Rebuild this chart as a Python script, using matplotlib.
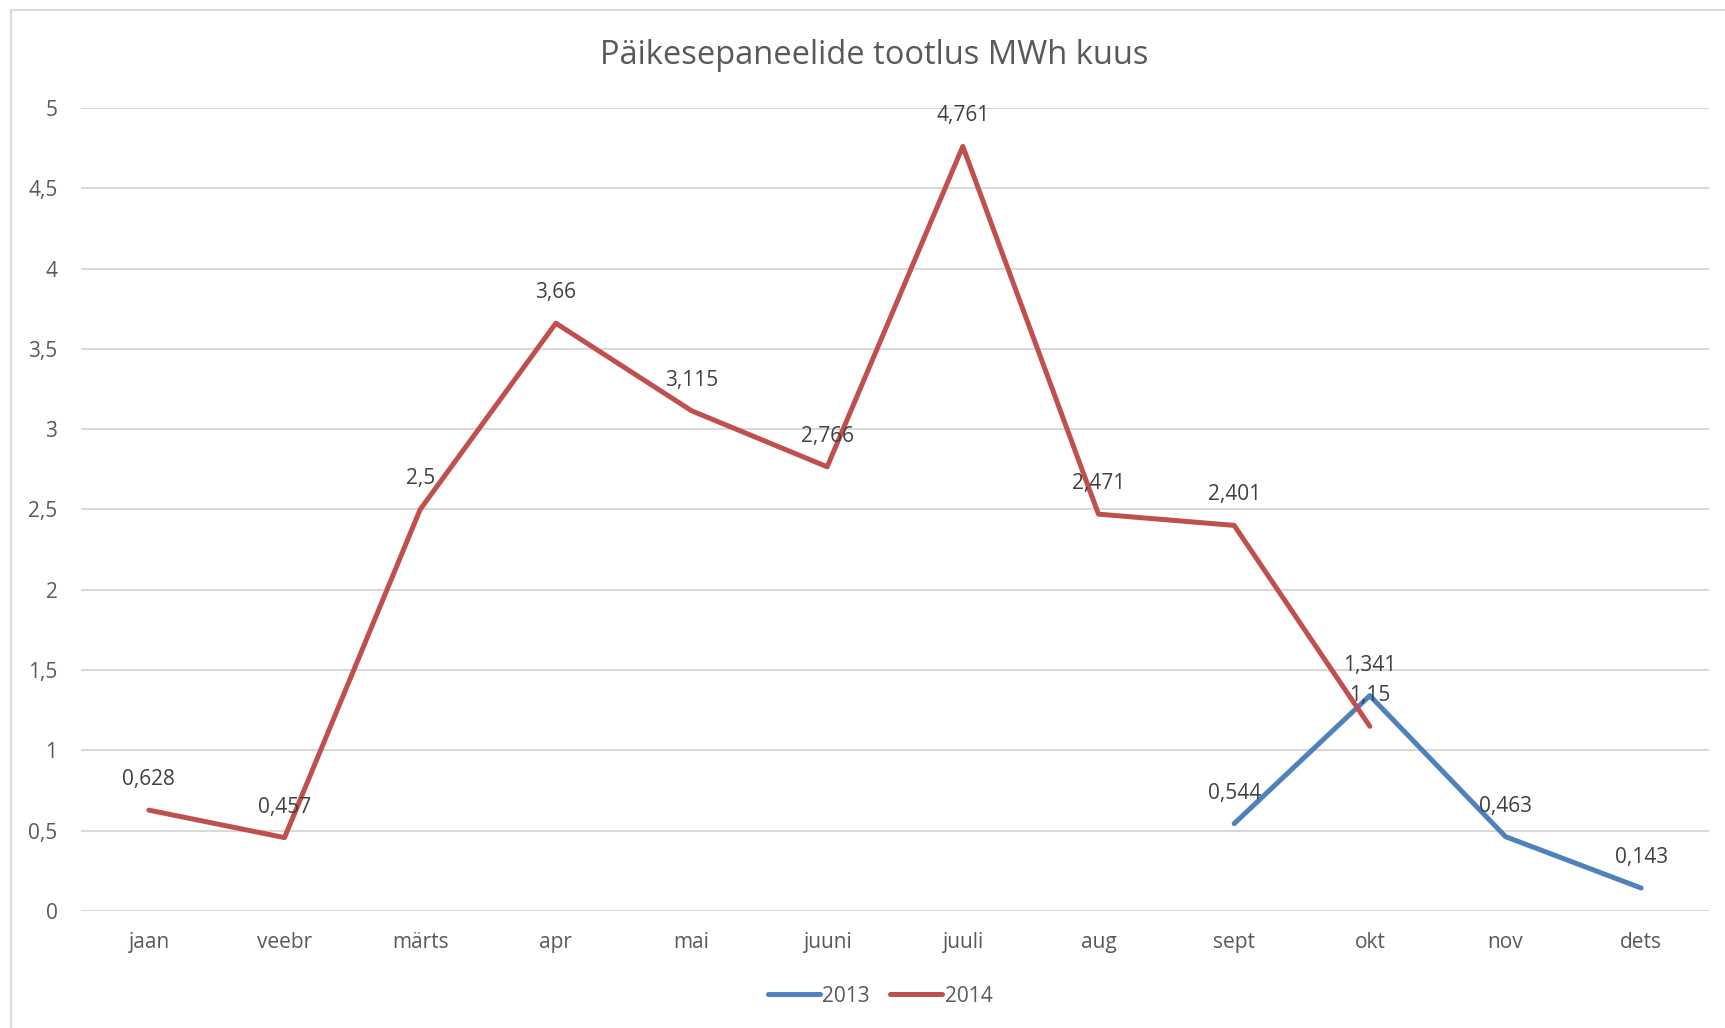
import matplotlib.pyplot as plt
from matplotlib.patches import Rectangle
from matplotlib.ticker import FuncFormatter

# --- data ---
months = ["jaan", "veebr", "märts", "apr", "mai", "juuni",
          "juuli", "aug", "sept", "okt", "nov", "dets"]
vals_2013 = [None, None, None, None, None, None, None, None, 0.544, 1.341, 0.463, 0.143]
vals_2014 = [0.628, 0.457, 2.5, 3.66, 3.115, 2.766, 4.761, 2.471, 2.401, 1.15, None, None]
yticks = [0, 0.5, 1, 1.5, 2, 2.5, 3, 3.5, 4, 4.5, 5]

BLUE = "#4F81BD"
RED = "#C0504D"
TXT = "#595959"
GRID = "#D9D9D9"

plt.rcParams['font.family'] = ['Open Sans', 'DejaVu Sans']


def fmt(v):
    s = ("%.3f" % v).rstrip("0").rstrip(".")
    return s.replace(".", ",")


fig = plt.figure(figsize=(17.25, 10.28), dpi=100)
ax = fig.add_axes([81 / 1725, 1 - 911 / 1028, 1628 / 1725, 803 / 1028])

# chart frame (right/bottom edges fall outside the picture)
fig.patches.append(Rectangle((11 / 1725, -0.05), 1.2, 1 - 10 / 1028 + 0.05,
                             transform=fig.transFigure, fill=False,
                             edgecolor=GRID, lw=1.5))

x = list(range(len(months)))
series = [("2013", vals_2013, BLUE), ("2014", vals_2014, RED)]
for name, vals, col in series:
    xs = [i for i, v in zip(x, vals) if v is not None]
    ys = [v for v in vals if v is not None]
    ax.plot(xs, ys, color=col, lw=3.6, solid_capstyle="round",
            solid_joinstyle="round", label=name, zorder=3)
    for xi, yi in zip(xs, ys):
        ax.annotate(fmt(yi), (xi, yi), xytext=(0, 22), textcoords="offset points",
                    ha="center", va="center", fontsize=15, color="#404040", zorder=4)

ax.set_xlim(-0.5, 11.5)
ax.set_ylim(0, 5)
ax.set_yticks(yticks)
ax.yaxis.set_major_formatter(FuncFormatter(lambda v, p: fmt(v)))
ax.set_xticks(x)
ax.set_xticklabels(months)
ax.grid(axis="y", color=GRID, lw=1.5)
ax.set_axisbelow(True)
for s in ax.spines.values():
    s.set_visible(False)
ax.tick_params(length=0, labelsize=15, colors=TXT)
ax.tick_params(axis="y", pad=17)
ax.tick_params(axis="x", pad=15)

fig.text(874 / 1725, 1 - 55 / 1028, "Päikesepaneelide tootlus MWh kuus",
         ha="center", va="center", fontsize=23.5, color=TXT)

leg = fig.legend(loc="center", bbox_to_anchor=(880 / 1725, 1 - 996 / 1028),
                 ncol=2, frameon=False, fontsize=15, handlelength=2.5,
                 handletextpad=0.1, columnspacing=1.0)
for t in leg.get_texts():
    t.set_color(TXT)

fig.savefig("out.png", dpi=100)
